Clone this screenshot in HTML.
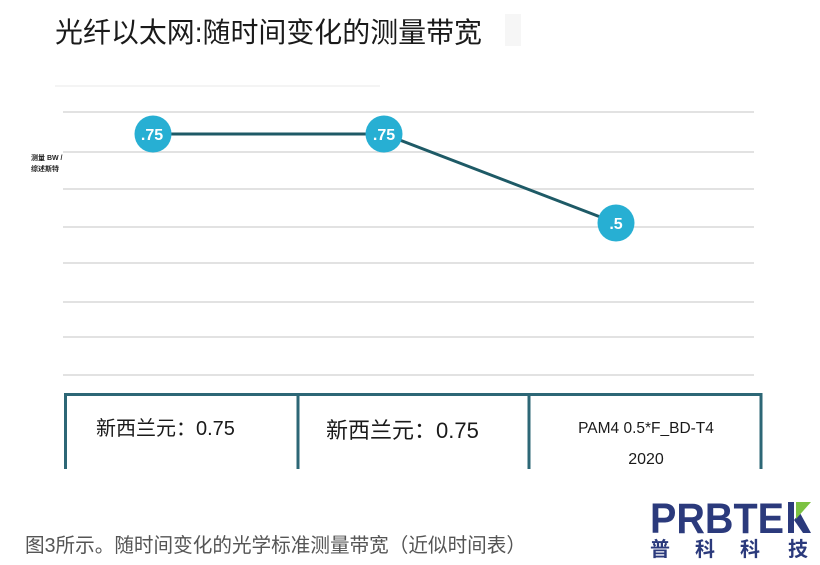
<!DOCTYPE html>
<html>
<head>
<meta charset="utf-8">
<style>
html,body{margin:0;padding:0;background:#fff;}
svg{display:block;}
</style>
</head>
<body>
<svg width="820" height="565" viewBox="0 0 820 565" xmlns="http://www.w3.org/2000/svg">
  <rect x="0" y="0" width="820" height="565" fill="#ffffff"/>
  <!-- faint box near title -->
  <rect x="505" y="14" width="16" height="32" fill="#f6f6f6"/>
  <!-- title -->
  <text x="55" y="42" font-family="'Liberation Sans','Noto Sans CJK SC',sans-serif" font-size="28" fill="#1a1a1a" textLength="427" lengthAdjust="spacingAndGlyphs">光纤以太网:随时间变化的测量带宽</text>

  <!-- faint top line -->
  <line x1="55" y1="86" x2="380" y2="86" stroke="#f4f4f4" stroke-width="2"/>
  <!-- grid lines -->
  <g stroke="#e2e2e2" stroke-width="2">
    <line x1="63" y1="112" x2="754" y2="112"/>
    <line x1="63" y1="152" x2="754" y2="152"/>
    <line x1="63" y1="189" x2="754" y2="189"/>
    <line x1="63" y1="227" x2="754" y2="227"/>
    <line x1="63" y1="263" x2="754" y2="263"/>
    <line x1="63" y1="302" x2="754" y2="302"/>
    <line x1="63" y1="337" x2="754" y2="337"/>
    <line x1="63" y1="375" x2="754" y2="375"/>
  </g>

  <!-- y label -->
  <text x="31" y="160" font-family="'Liberation Sans','Noto Sans CJK SC',sans-serif" font-size="7" font-weight="bold" fill="#222">测量 BW /</text>
  <text x="31" y="171" font-family="'Liberation Sans','Noto Sans CJK SC',sans-serif" font-size="7" font-weight="bold" fill="#222">综述斯特</text>

  <!-- series line -->
  <polyline points="153,134 384,134 616,223" fill="none" stroke="#1e5a66" stroke-width="3"/>
  <!-- markers -->
  <g fill="#27afd3">
    <circle cx="153" cy="134" r="18.5"/>
    <circle cx="384" cy="134" r="18.5"/>
    <circle cx="616" cy="223" r="18.5"/>
  </g>
  <g font-family="'Liberation Sans',sans-serif" font-size="16" font-weight="bold" fill="#ffffff" text-anchor="middle">
    <text x="152" y="140">.75</text>
    <text x="384" y="140">.75</text>
    <text x="616" y="229">.5</text>
  </g>

  <!-- table -->
  <g stroke="#2d6776" stroke-width="3" fill="none">
    <line x1="64" y1="394.5" x2="762.5" y2="394.5"/>
    <line x1="65.5" y1="394" x2="65.5" y2="469"/>
    <line x1="298" y1="394" x2="298" y2="469"/>
    <line x1="529" y1="394" x2="529" y2="469"/>
    <line x1="761" y1="394" x2="761" y2="469"/>
  </g>
  <text x="96" y="435" font-family="'Liberation Sans','Noto Sans CJK SC',sans-serif" font-size="20" fill="#1a1a1a">新西兰元：0.75</text>
  <text x="326" y="438" font-family="'Liberation Sans','Noto Sans CJK SC',sans-serif" font-size="22" fill="#1a1a1a">新西兰元：0.75</text>
  <text x="646" y="433" text-anchor="middle" font-family="'Liberation Sans',sans-serif" font-size="15.5" fill="#1a1a1a">PAM4 0.5*F_BD-T4</text>
  <text x="646" y="464" text-anchor="middle" font-family="'Liberation Sans',sans-serif" font-size="16" fill="#1a1a1a">2020</text>

  <!-- caption -->
  <text x="25" y="552" font-family="'Liberation Sans','Noto Sans CJK SC',sans-serif" font-size="20" fill="#555555" textLength="501" lengthAdjust="spacingAndGlyphs">图3所示。随时间变化的光学标准测量带宽（近似时间表）</text>

  <!-- logo -->
  <text x="650" y="533" font-family="'Liberation Sans',sans-serif" font-size="43" font-weight="bold" fill="#2b3a7c" textLength="134" lengthAdjust="spacingAndGlyphs">PRBTE</text>
  <!-- K -->
  <rect x="788" y="502" width="6" height="31" fill="#2b3a7c"/>
  <polygon points="794,520 800,513 811,533 803,533" fill="#2b3a7c"/>
  <polygon points="796,502 811,502 796,519" fill="#7cc242"/>
  <g font-family="'Noto Sans CJK SC',sans-serif" font-size="20" font-weight="bold" fill="#2b3a7c">
    <text x="650" y="556">普</text>
    <text x="695" y="556">科</text>
    <text x="740" y="556">科</text>
    <text x="788" y="556">技</text>
  </g>
</svg>
</body>
</html>
